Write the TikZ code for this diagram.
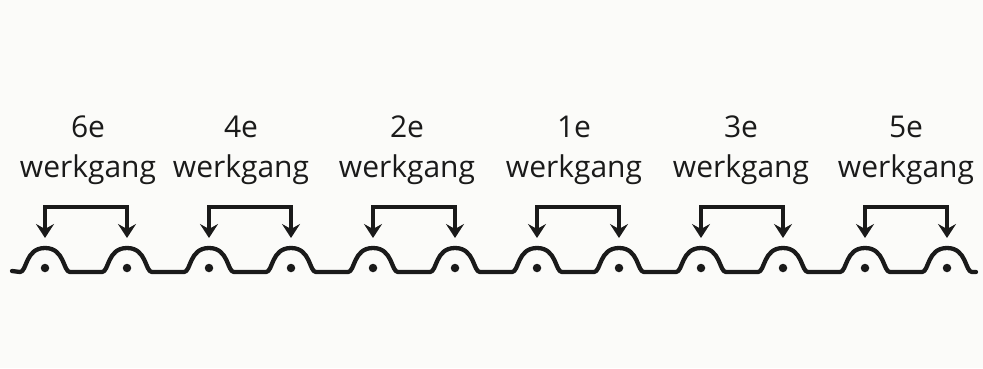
\documentclass[tikz,border=0pt]{standalone}
\usepackage{fontspec}
\setmainfont{Open Sans}
\usetikzlibrary{arrows.meta}
\definecolor{ink}{HTML}{1A1A1A}
\definecolor{paper}{HTML}{FBFBF9}
\begin{document}
\begin{tikzpicture}[x=1pt,y=-1pt,
  lbl/.style={font=\fontsize{30}{40}\selectfont, text=ink, align=center, inner sep=0pt, anchor=base},
  wave/.style={draw=ink, line width=4.3pt, line join=round, line cap=round},
  pdot/.style={circle, fill=ink, inner sep=0pt, minimum size=8.5pt},
  brkline/.style={draw=ink, line width=4pt, line cap=rect},
  brk/.style={draw=ink, line width=4pt, -{Stealth[width=18pt,length=14pt,inset=5pt]}},
]
\fill[paper] (0,0) rectangle (983,368);
\useasboundingbox (0,0) rectangle (983,368);
% dots and arrow targets
\foreach \i in {1,...,12}{
  \pgfmathsetmacro{\cx}{45+82*(\i-1)}
  \node[pdot] (d\i) at (\cx,268) {};
  \coordinate (t\i) at (\cx,238);
  \coordinate (h\i) at (\cx,207);
}
\coordinate (wstart) at (12,271);
\coordinate (wend) at (976,272);
% wave line
\draw[wave] (wstart)
  \foreach \i in {1,...,12}{
    \pgfextra{\pgfmathsetmacro{\cx}{45+82*(\i-1)}}
    -- (\cx-25,272)
    .. controls (\cx-18,272) and (\cx-20,248) .. (\cx,248)
    .. controls (\cx+20,248) and (\cx+18,272) .. (\cx+25,272)
  } -- (wend);
% brackets
\foreach \a/\b in {1/2,3/4,5/6,7/8,9/10,11/12}{
  \draw[brkline] (h\a) -- (h\b);
  \draw[brk] (h\a) -- (t\a);
  \draw[brk] (h\b) -- (t\b);
}
% labels
\foreach \x/\n [count=\k] in {88/6,241/4,407/2,574/1,741/3,906/5}{
  \node[lbl] (n\k) at (\x,137) {\n e};
  \node[lbl] (w\k) at (\x,177) {werkgang};
}
\end{tikzpicture}
\end{document}
